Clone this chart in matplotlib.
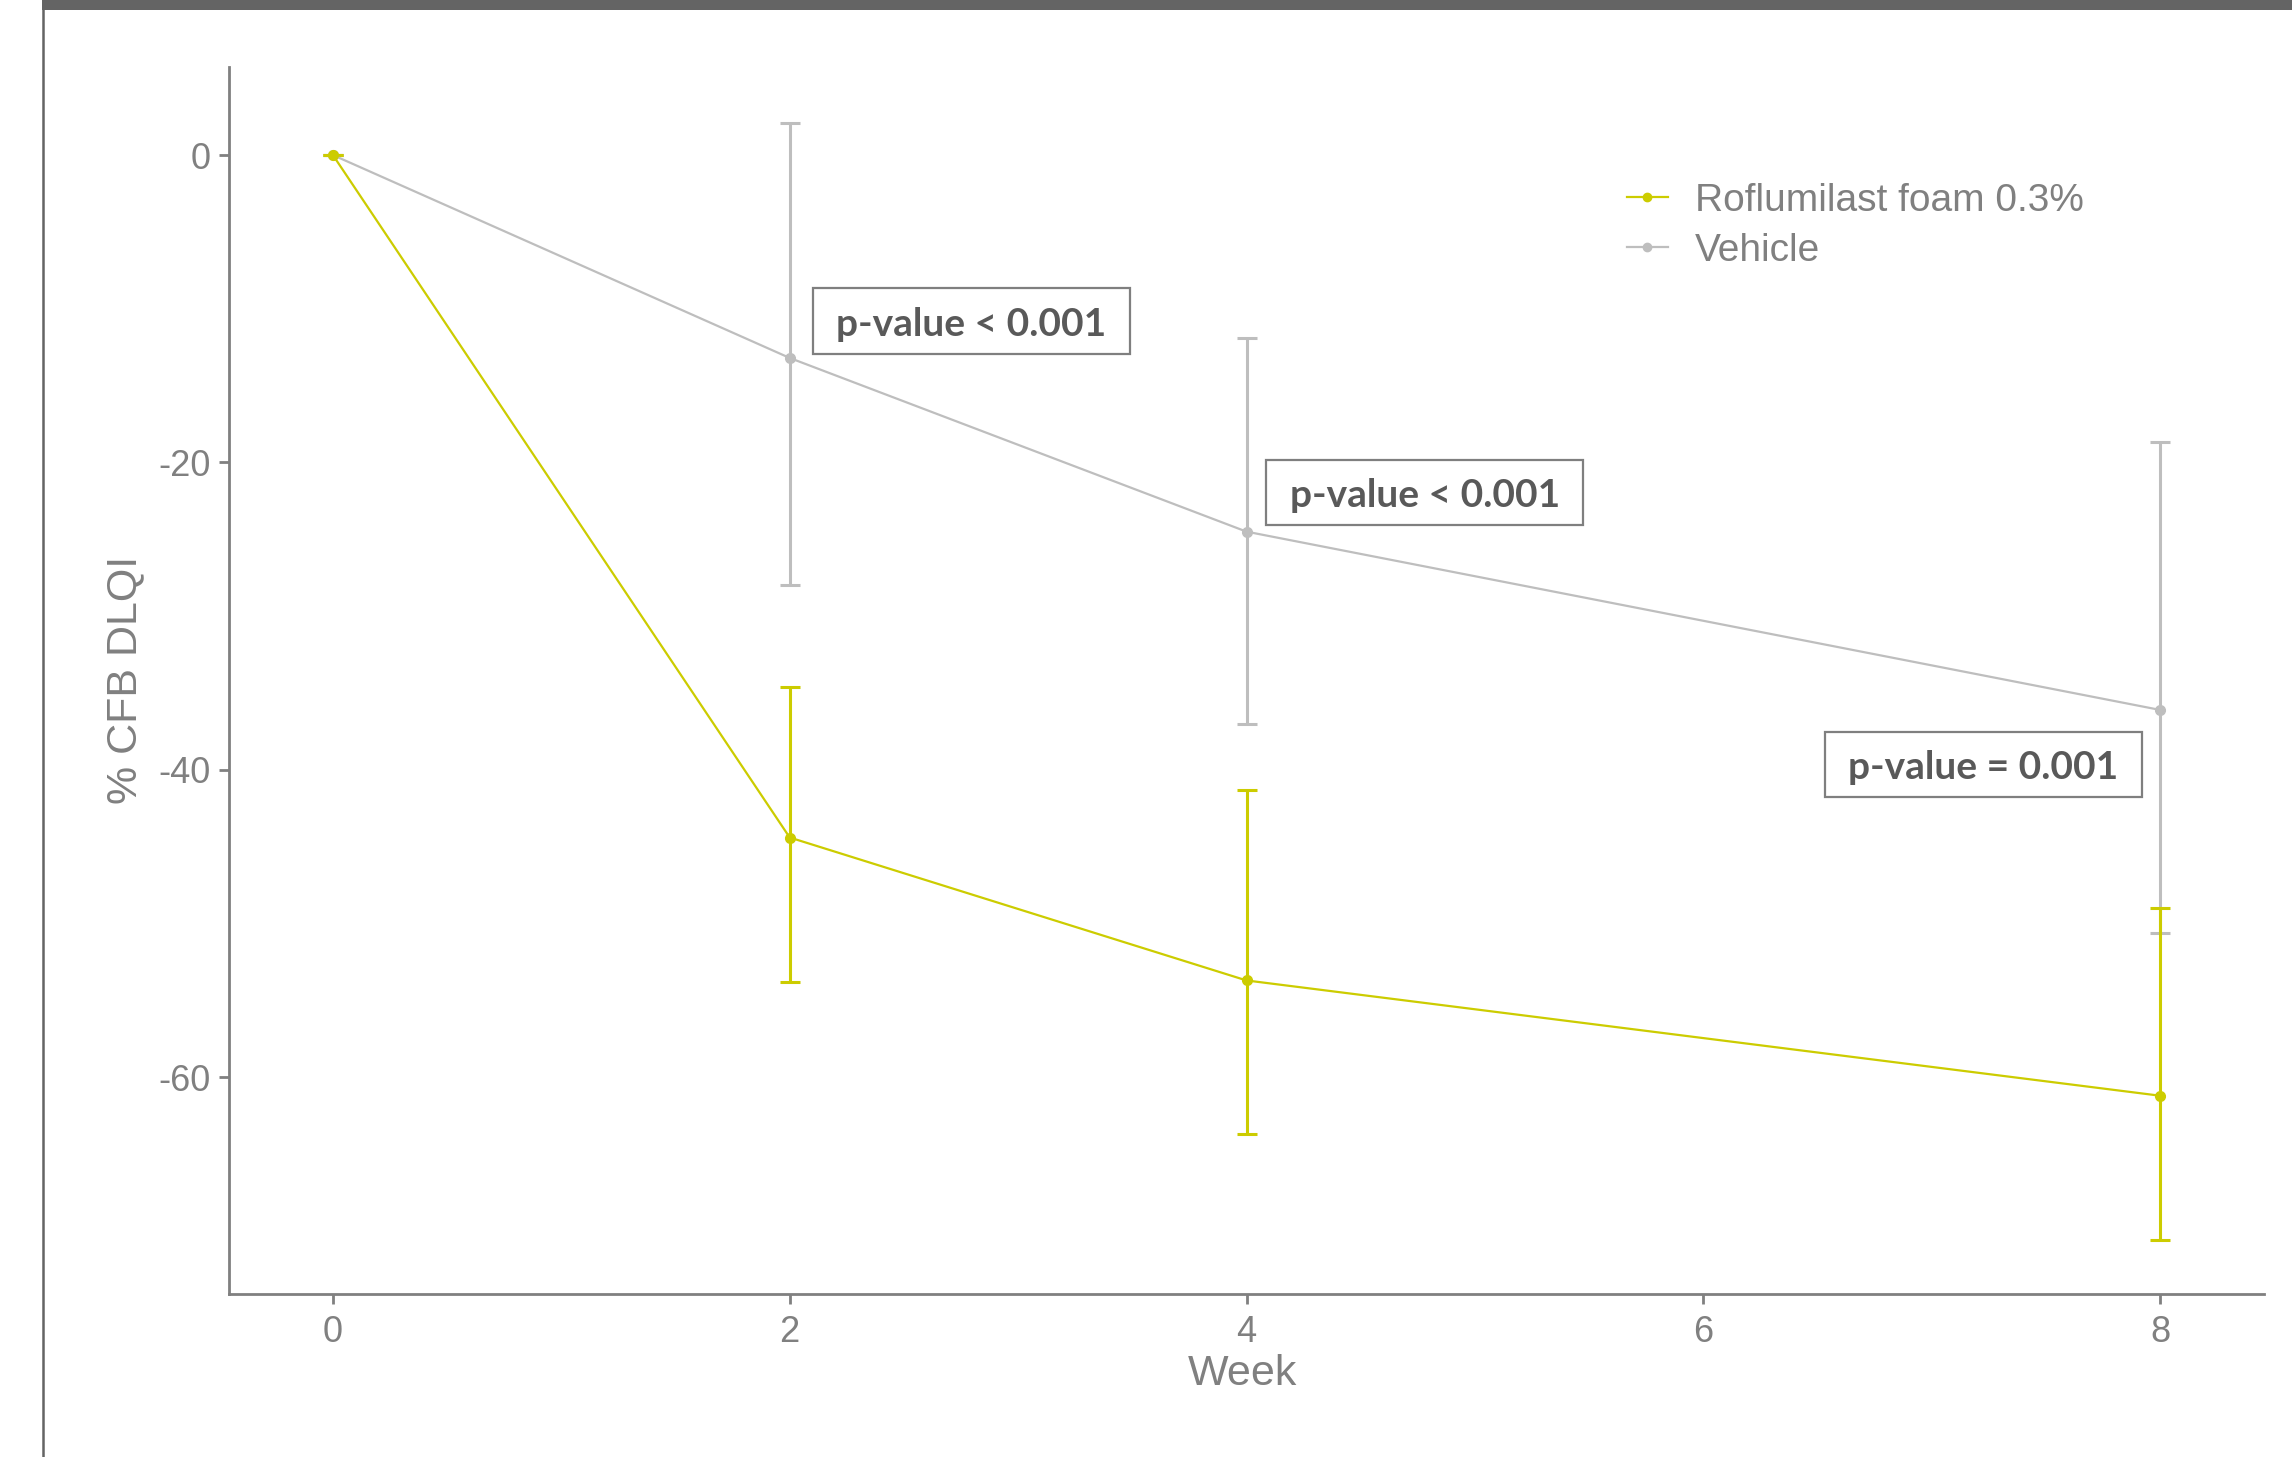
import matplotlib
matplotlib.use("Agg")
import matplotlib.pyplot as plt
from matplotlib.patches import Rectangle
from matplotlib.lines import Line2D

plt.rcParams["axes.unicode_minus"] = False

# ---- data ----
weeks = [0, 2, 4, 8]
roflu_mean = [0.0, -44.4, -53.7, -61.2]
roflu_low = [0.0, -53.8, -63.7, -70.6]
roflu_high = [0.0, -34.6, -41.3, -49.0]
veh_mean = [0.0, -13.2, -24.5, -36.1]
veh_low = [0.0, -28.0, -37.0, -50.6]
veh_high = [0.0, 2.1, -11.9, -18.7]
series_labels = ["Roflumilast foam 0.3%", "Vehicle"]
x_ticks = [0, 2, 4, 6, 8]
y_ticks = [0, -20, -40, -60]
annot_texts = ["p-value < 0.001", "p-value < 0.001", "p-value = 0.001"]
annot_x = [2.796, 4.78, 7.226]
annot_y = [-10.8, -21.96, -39.65]

YELLOW = "#CCCC00"
GREY = "#BEBEBE"
AXC = "#808080"

fig = plt.figure(figsize=(22.92, 14.57), dpi=100)
fig.patch.set_facecolor("white")
ax = fig.add_axes([229/2292, 1-1294/1457, (2264-229)/2292, (1294-67)/1457])

def draw(mean, low, high, color, label):
    yerr = [[m - l for m, l in zip(mean, low)], [h - m for m, h in zip(mean, high)]]
    ax.errorbar(weeks, mean, yerr=yerr, fmt="none", ecolor=color, elinewidth=2.2,
                capsize=7.5, capthick=2.2, zorder=2)
    ax.plot(weeks, mean, color=color, lw=1.6, marker="o", ms=7, label=label, zorder=3)

draw(veh_mean, veh_low, veh_high, GREY, series_labels[1])
draw(roflu_mean, roflu_low, roflu_high, YELLOW, series_labels[0])

ax.set_xlim(-0.455, 8.455)
ax.set_ylim(-74.1, 5.73)
ax.set_xticks(x_ticks)
ax.set_yticks(y_ticks)
for s in ["top", "right"]:
    ax.spines[s].set_visible(False)
for s in ["left", "bottom"]:
    ax.spines[s].set_color(AXC)
    ax.spines[s].set_linewidth(2)
ax.tick_params(axis="both", colors=AXC, width=2, length=7, labelsize=26,
               labelcolor=AXC)
ax.tick_params(axis="x", pad=8)
ax.tick_params(axis="y", pad=6)
for lab in ax.get_xticklabels() + ax.get_yticklabels():
    lab.set_fontfamily("Liberation Sans")

ax.set_xlabel("Week", fontsize=31, color=AXC, family="Liberation Sans", va="center")
ax.set_ylabel("% CFB DLQI", fontsize=31, color=AXC, family="Liberation Sans", va="center")
ax.xaxis.set_label_coords((1243-229)/(2264-229), -(1374-1294)/(1294-67))
ax.yaxis.set_label_coords(-(229-125)/(2264-229), (1294-680)/(1294-67))

# annotations boxes
bw, bh = 1.39, 4.25
for t, cx, cy in zip(annot_texts, annot_x, annot_y):
    ax.add_patch(Rectangle((cx - bw/2, cy - bh/2), bw, bh, fill=True, facecolor="white",
                           edgecolor="#7f7f7f", lw=1.6, zorder=4))
    ax.text(cx, cy, t, ha="center", va="center_baseline", fontsize=28, fontweight="bold",
            color="#595959", family="Lato", zorder=5)

# legend
handles, labels = ax.get_legend_handles_labels()
order = [labels.index(series_labels[0]), labels.index(series_labels[1])]
leg = fig.legend([handles[i] for i in order], [labels[i] for i in order],
                 loc="upper left", bbox_to_anchor=(1627/2292, 1-183/1457),
                 frameon=False, borderpad=0, borderaxespad=0, handlelength=1.05,
                 handletextpad=0.7, labelspacing=0.35,
                 prop={"family": "Liberation Sans", "size": 28})
for txt in leg.get_texts():
    txt.set_color(AXC)
for h in leg.legend_handles:
    h.set_markersize(6)

# frame decorations (top bar and left rule)
fig.add_artist(Rectangle((42/2292, 1-10/1457), 1-42/2292, 10/1457, transform=fig.transFigure,
                         facecolor="#646464", edgecolor="none"))
fig.add_artist(Line2D([43/2292, 43/2292], [0, 1], transform=fig.transFigure,
                      color="#646464", lw=1.8))

fig.savefig("out.png", dpi=100)
